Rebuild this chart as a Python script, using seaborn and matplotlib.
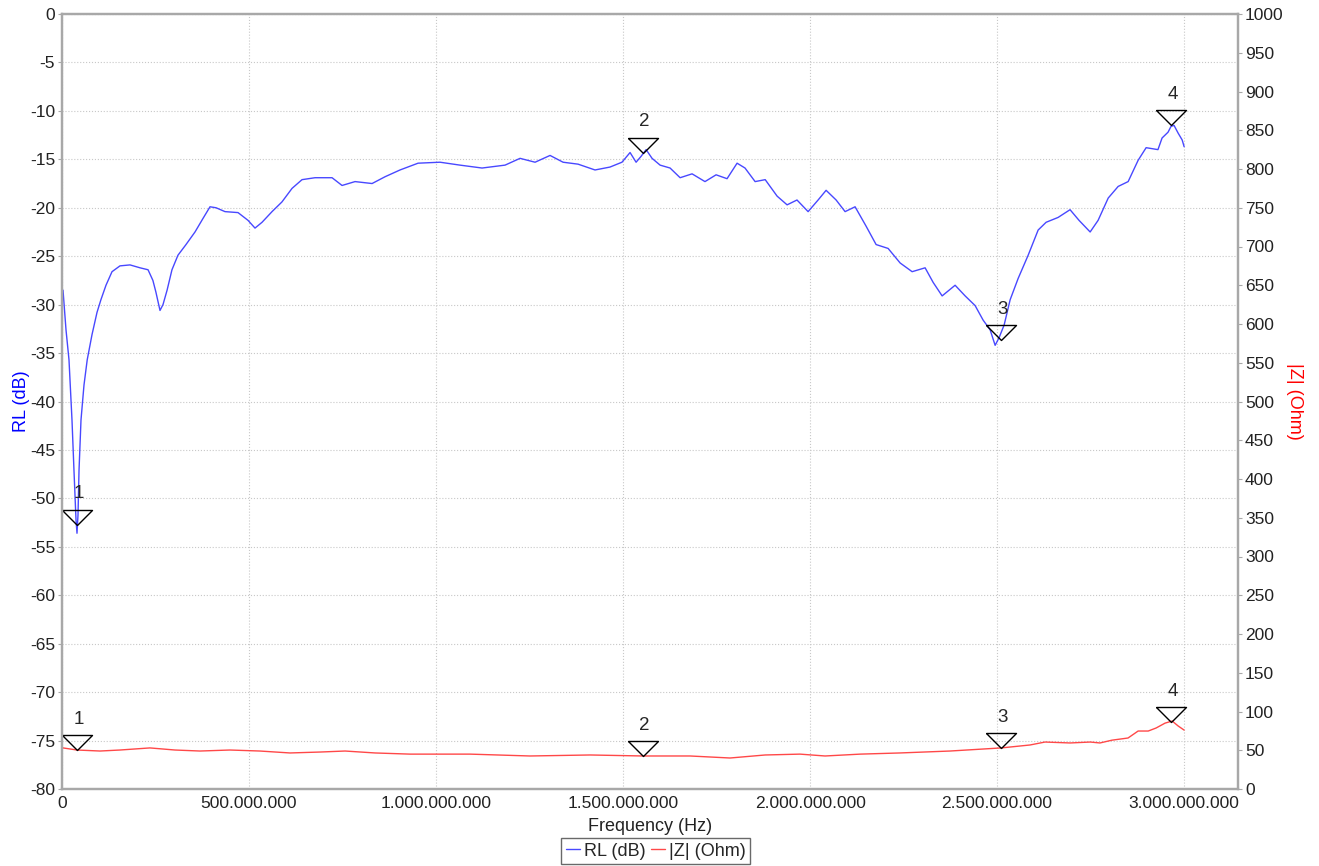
import numpy as np
import pandas as pd
import matplotlib
matplotlib.use('Agg')
import matplotlib.pyplot as plt
import seaborn as sns
from matplotlib.ticker import FuncFormatter

# RL trace (frequency in MHz, return loss in dB)
rl_freq_mhz = [2.7, 10.7, 18.7, 26.7, 32, 37.4, 40.1, 42.8, 45.5, 50.8, 58.8, 67.4, 80.2, 93.6,
               104, 117.6, 133.7, 155, 181.8, 208.6, 230, 243, 251, 262, 270, 281, 294, 310,
               331.5, 355.6, 377, 395.7, 411.8, 435.8, 470.6, 497.3, 516, 534.8, 561.5, 588,
               615, 641.7, 676.5, 722, 748.7, 783.4, 829, 863.6, 903.7, 951.9, 1010.7, 1064,
               1123, 1184.5, 1224.6, 1264.7, 1304.8, 1339.6, 1379.7, 1425, 1465, 1497, 1518.7,
               1534.8, 1548, 1561.6, 1577.5, 1599, 1625.7, 1652.5, 1684.5, 1719, 1748.7, 1778,
               1804.8, 1826, 1853, 1880, 1911.8, 1938.5, 1965, 1994.7, 2021.4, 2042.8, 2069.6,
               2093.6, 2120.3, 2149.7, 2176.5, 2208.6, 2240.7, 2272.8, 2307.5, 2328.9, 2353,
               2387.7, 2414.5, 2441.2, 2462.6, 2481.3, 2494.7, 2505.4, 2518.8, 2534.8, 2556.2,
               2583, 2609.7, 2631, 2663, 2695, 2719, 2748.7, 2770, 2797, 2823.6, 2850.3, 2877,
               2898.4, 2930, 2941, 2957, 2965, 2973, 2984, 2994.7, 3000]
rl_db = [-28.5, -32.6, -35.7, -41.9, -47.1, -52.2, -53.6, -51.7, -47.1, -41.9, -38.3, -35.7,
         -33.1, -30.8, -29.5, -28.0, -26.6, -26.0, -25.9, -26.2, -26.4, -27.5, -28.7, -30.6,
         -30.0, -28.5, -26.4, -24.9, -23.8, -22.5, -21.1, -19.9, -20.0, -20.4, -20.5, -21.3,
         -22.1, -21.5, -20.4, -19.4, -18.0, -17.1, -16.9, -16.9, -17.7, -17.3, -17.5, -16.8,
         -16.1, -15.4, -15.3, -15.6, -15.9, -15.6, -14.9, -15.3, -14.6, -15.3, -15.5, -16.1,
         -15.8, -15.3, -14.3, -15.3, -14.7, -14.0, -14.9, -15.6, -15.9, -16.9, -16.5, -17.3,
         -16.6, -17.0, -15.4, -15.9, -17.3, -17.1, -18.8, -19.7, -19.2, -20.4, -19.2, -18.2,
         -19.2, -20.4, -19.9, -21.9, -23.8, -24.2, -25.7, -26.6, -26.2, -27.7, -29.1, -28.0,
         -29.1, -30.1, -31.6, -32.6, -34.2, -33.4, -32.1, -29.5, -27.3, -24.9, -22.3, -21.5,
         -21.0, -20.2, -21.3, -22.5, -21.3, -19.0, -17.8, -17.3, -15.1, -13.8, -14.0, -12.8,
         -12.2, -11.6, -11.5, -12.3, -13.0, -13.7]

# |Z| trace (frequency in MHz, impedance in Ohm)
z_freq_mhz = [2.7, 40, 101.6, 155, 235, 302, 369, 449, 529, 609.6, 690, 756.7, 837, 930.5,
              1091, 1251, 1412, 1553, 1679, 1786, 1880, 1973, 2040, 2134, 2240, 2374, 2511,
              2588, 2628, 2695, 2749, 2775, 2807, 2850, 2877, 2904, 2925, 2949, 2968, 2984, 3000]
z_ohm = [53, 50.3, 49, 50.3, 53, 50.3, 49, 50.3, 49, 46.5, 47.7, 49, 46.5, 45, 45, 42.6, 43.9,
         42.6, 42.6, 40, 43.9, 45, 42.6, 45, 46.5, 49, 53, 56.8, 60.6, 59.4, 60.6, 59.4, 63,
         65.8, 74.8, 74.8, 78.7, 85, 87.7, 81.3, 76]

# markers
marker_ids = ['1', '2', '3', '4']
marker_freq_mhz = [40, 1553, 2511, 2965]
marker_rl = [-52.7, -14.3, -33.7, -11.5]
marker_z = [50, 42.6, 53, 86.5]

x_ticks_hz = [0, 500e6, 1000e6, 1500e6, 2000e6, 2500e6, 3000e6]

rl_df = pd.DataFrame({'freq': np.array(rl_freq_mhz) * 1e6, 'rl': rl_db})
z_df = pd.DataFrame({'freq': np.array(z_freq_mhz) * 1e6, 'z': z_ohm})

sns.set_style('white')
plt.rcParams['font.family'] = ['Liberation Sans', 'DejaVu Sans']
plt.rcParams['font.size'] = 12
plt.rcParams['axes.unicode_minus'] = False

blue = '#4848ff'
red = '#ff4848'

fig = plt.figure(figsize=(13.19, 8.66), dpi=100)
ax = fig.add_axes([62 / 1319, 77 / 866, (1238 - 62) / 1319, (789 - 14) / 866])
ax2 = ax.twinx()

sns.lineplot(data=rl_df, x='freq', y='rl', ax=ax, color=blue, lw=1, label='RL (dB)', legend=False)
sns.lineplot(data=z_df, x='freq', y='z', ax=ax2, color=red, lw=1, label='|Z| (Ohm)', legend=False)

# triangle marker with its tip at the data point
tri = [(-1, 1), (1, 1), (0, 0), (-1, 1)]
mf = np.array(marker_freq_mhz) * 1e6
ax.plot(mf, marker_rl, ls='none', marker=tri, ms=21.6, mfc='none', mec='black', mew=1)
ax2.plot(mf, marker_z, ls='none', marker=tri, ms=21.6, mfc='none', mec='black', mew=1)
for i, lab in enumerate(marker_ids):
    ax.annotate(lab, (mf[i], marker_rl[i]), xytext=(1, 16), textcoords='offset points',
                ha='center', va='bottom', fontsize=13.5)
    ax2.annotate(lab, (mf[i], marker_z[i]), xytext=(1, 16), textcoords='offset points',
                 ha='center', va='bottom', fontsize=13.5)

ax.set_xlim(0, 3.144e9)
ax.set_ylim(-80, 0)
ax2.set_ylim(0, 1000)
ax.set_xticks(x_ticks_hz)
ax.xaxis.set_major_formatter(FuncFormatter(lambda v, p: '{:,.0f}'.format(v).replace(',', '.')))
ax.set_yticks(np.arange(-80, 1, 5))
ax2.set_yticks(np.arange(0, 1001, 50))

ax.grid(True, color='#c8c8c8', ls=':', lw=0.8)
ax2.grid(False)
ax.set_axisbelow(True)

for a in (ax, ax2):
    for s in a.spines.values():
        s.set_color('#a8a8a8')
        s.set_linewidth(1.6)
    a.tick_params(length=3, width=0.8, color='#a8a8a8', labelsize=12.5, labelcolor='#222222', pad=2)

ax.set_xlabel('Frequency (Hz)', fontsize=13, color='#222222', labelpad=5)
ax.set_ylabel('RL (dB)', fontsize=13, color='blue', labelpad=0)
ax2.set_ylabel('|Z| (Ohm)', fontsize=13, color='red', rotation=270, labelpad=14)

h1, l1 = ax.get_legend_handles_labels()
h2, l2 = ax2.get_legend_handles_labels()
leg = fig.legend(h1[:1] + h2[:1], l1[:1] + l2[:1], loc='lower center', ncol=2,
                 bbox_to_anchor=(0.497, 0.0), frameon=True, fancybox=False, fontsize=13,
                 handlelength=0.8, handletextpad=0.2, columnspacing=0.3, borderpad=0.25,
                 borderaxespad=0.1)
leg.get_frame().set_edgecolor('#444444')
leg.get_frame().set_linewidth(1)

fig.savefig('out.png', dpi=100)
